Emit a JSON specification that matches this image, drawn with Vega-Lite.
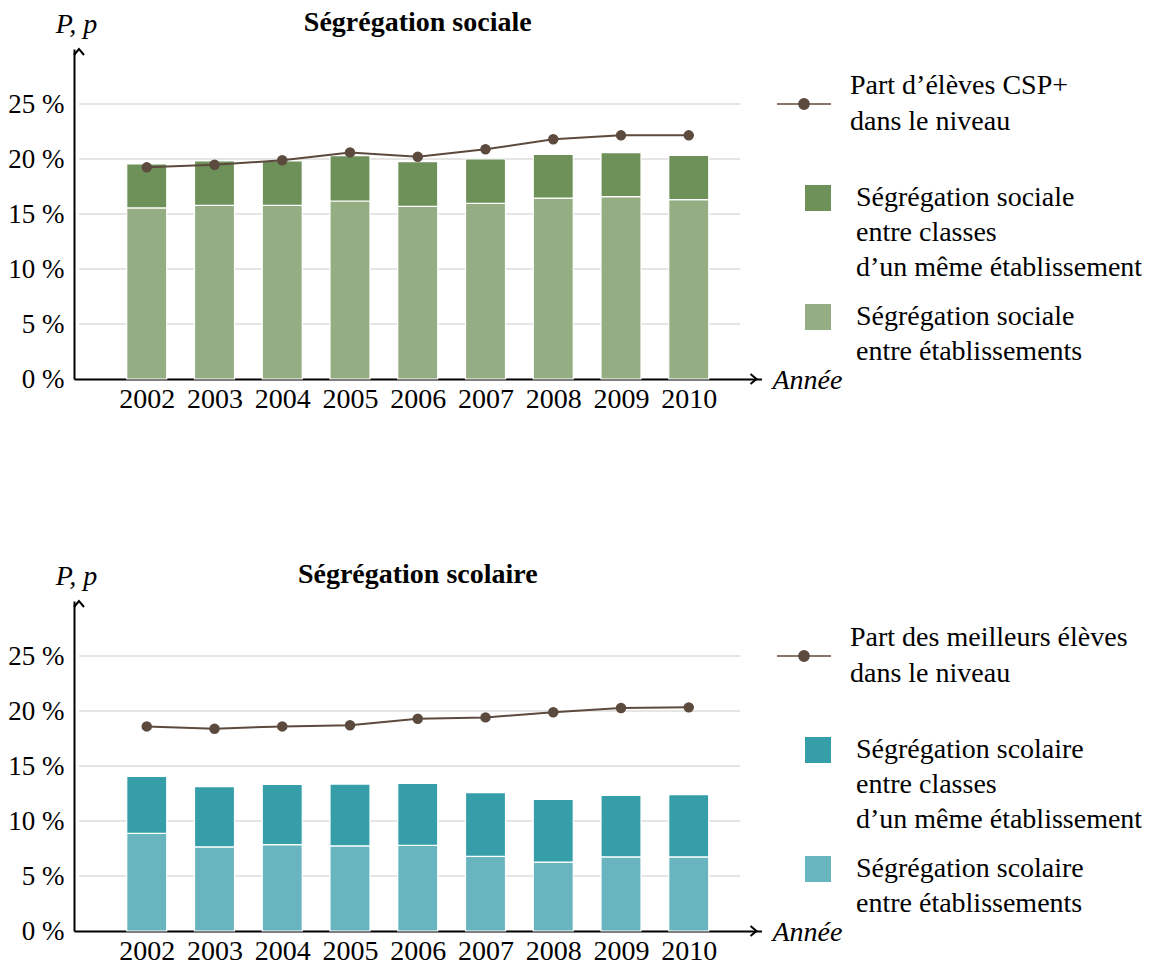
{
  "$schema": "https://vega.github.io/schema/vega-lite/v6.json",
  "background": "white",
  "padding": {"left": 7, "top": 9, "right": 5, "bottom": 5},
  "config": {
    "view": {"stroke": null},
    "font": "Liberation Serif",
    "axis": {"labelFont": "Liberation Serif", "titleFont": "Liberation Serif", "labelColor": "black", "titleColor": "black"},
    "legend": {"labelFont": "Liberation Serif", "labelColor": "black"},
    "title": {"font": "Liberation Serif", "color": "black"},
    "style": {"guide-label": {"lineHeight": 35}}
  },
  "datasets": {
    "grid": [{"g": 5}, {"g": 10}, {"g": 15}, {"g": 20}, {"g": 25}],
    "soc_bars": [
      {"year": 2002, "comp": "Ségrégation sociale|entre établissements", "ord": 1, "v": 15.55},
      {"year": 2002, "comp": "Ségrégation sociale|entre classes|d’un même établissement", "ord": 2, "v": 4.0},
      {"year": 2003, "comp": "Ségrégation sociale|entre établissements", "ord": 1, "v": 15.79},
      {"year": 2003, "comp": "Ségrégation sociale|entre classes|d’un même établissement", "ord": 2, "v": 4.03},
      {"year": 2004, "comp": "Ségrégation sociale|entre établissements", "ord": 1, "v": 15.79},
      {"year": 2004, "comp": "Ségrégation sociale|entre classes|d’un même établissement", "ord": 2, "v": 4.03},
      {"year": 2005, "comp": "Ségrégation sociale|entre établissements", "ord": 1, "v": 16.18},
      {"year": 2005, "comp": "Ségrégation sociale|entre classes|d’un même établissement", "ord": 2, "v": 4.12},
      {"year": 2006, "comp": "Ségrégation sociale|entre établissements", "ord": 1, "v": 15.7},
      {"year": 2006, "comp": "Ségrégation sociale|entre classes|d’un même établissement", "ord": 2, "v": 4.06},
      {"year": 2007, "comp": "Ségrégation sociale|entre établissements", "ord": 1, "v": 15.97},
      {"year": 2007, "comp": "Ségrégation sociale|entre classes|d’un même établissement", "ord": 2, "v": 4.03},
      {"year": 2008, "comp": "Ségrégation sociale|entre établissements", "ord": 1, "v": 16.45},
      {"year": 2008, "comp": "Ségrégation sociale|entre classes|d’un même établissement", "ord": 2, "v": 3.97},
      {"year": 2009, "comp": "Ségrégation sociale|entre établissements", "ord": 1, "v": 16.58},
      {"year": 2009, "comp": "Ségrégation sociale|entre classes|d’un même établissement", "ord": 2, "v": 4.0},
      {"year": 2010, "comp": "Ségrégation sociale|entre établissements", "ord": 1, "v": 16.3},
      {"year": 2010, "comp": "Ségrégation sociale|entre classes|d’un même établissement", "ord": 2, "v": 4.03}
    ],
    "soc_line": [
      {"year": 2002, "p": 19.24, "s": "Part d’élèves CSP+|dans le niveau"},
      {"year": 2003, "p": 19.48, "s": "Part d’élèves CSP+|dans le niveau"},
      {"year": 2004, "p": 19.88, "s": "Part d’élèves CSP+|dans le niveau"},
      {"year": 2005, "p": 20.6, "s": "Part d’élèves CSP+|dans le niveau"},
      {"year": 2006, "p": 20.2, "s": "Part d’élèves CSP+|dans le niveau"},
      {"year": 2007, "p": 20.88, "s": "Part d’élèves CSP+|dans le niveau"},
      {"year": 2008, "p": 21.79, "s": "Part d’élèves CSP+|dans le niveau"},
      {"year": 2009, "p": 22.15, "s": "Part d’élèves CSP+|dans le niveau"},
      {"year": 2010, "p": 22.15, "s": "Part d’élèves CSP+|dans le niveau"}
    ],
    "sco_bars": [
      {"year": 2002, "comp": "Ségrégation scolaire|entre établissements", "ord": 1, "v": 8.88},
      {"year": 2002, "comp": "Ségrégation scolaire|entre classes|d’un même établissement", "ord": 2, "v": 5.18},
      {"year": 2003, "comp": "Ségrégation scolaire|entre établissements", "ord": 1, "v": 7.64},
      {"year": 2003, "comp": "Ségrégation scolaire|entre classes|d’un même établissement", "ord": 2, "v": 5.48},
      {"year": 2004, "comp": "Ségrégation scolaire|entre établissements", "ord": 1, "v": 7.85},
      {"year": 2004, "comp": "Ségrégation scolaire|entre classes|d’un même établissement", "ord": 2, "v": 5.48},
      {"year": 2005, "comp": "Ségrégation scolaire|entre établissements", "ord": 1, "v": 7.73},
      {"year": 2005, "comp": "Ségrégation scolaire|entre classes|d’un même établissement", "ord": 2, "v": 5.63},
      {"year": 2006, "comp": "Ségrégation scolaire|entre établissements", "ord": 1, "v": 7.79},
      {"year": 2006, "comp": "Ségrégation scolaire|entre classes|d’un même établissement", "ord": 2, "v": 5.63},
      {"year": 2007, "comp": "Ségrégation scolaire|entre établissements", "ord": 1, "v": 6.79},
      {"year": 2007, "comp": "Ségrégation scolaire|entre classes|d’un même établissement", "ord": 2, "v": 5.79},
      {"year": 2008, "comp": "Ségrégation scolaire|entre établissements", "ord": 1, "v": 6.27},
      {"year": 2008, "comp": "Ségrégation scolaire|entre classes|d’un même établissement", "ord": 2, "v": 5.7},
      {"year": 2009, "comp": "Ségrégation scolaire|entre établissements", "ord": 1, "v": 6.73},
      {"year": 2009, "comp": "Ségrégation scolaire|entre classes|d’un même établissement", "ord": 2, "v": 5.6},
      {"year": 2010, "comp": "Ségrégation scolaire|entre établissements", "ord": 1, "v": 6.73},
      {"year": 2010, "comp": "Ségrégation scolaire|entre classes|d’un même établissement", "ord": 2, "v": 5.66}
    ],
    "sco_line": [
      {"year": 2002, "p": 18.6, "s": "Part des meilleurs élèves|dans le niveau"},
      {"year": 2003, "p": 18.39, "s": "Part des meilleurs élèves|dans le niveau"},
      {"year": 2004, "p": 18.6, "s": "Part des meilleurs élèves|dans le niveau"},
      {"year": 2005, "p": 18.7, "s": "Part des meilleurs élèves|dans le niveau"},
      {"year": 2006, "p": 19.3, "s": "Part des meilleurs élèves|dans le niveau"},
      {"year": 2007, "p": 19.42, "s": "Part des meilleurs élèves|dans le niveau"},
      {"year": 2008, "p": 19.88, "s": "Part des meilleurs élèves|dans le niveau"},
      {"year": 2009, "p": 20.27, "s": "Part des meilleurs élèves|dans le niveau"},
      {"year": 2010, "p": 20.33, "s": "Part des meilleurs élèves|dans le niveau"}
    ]
  },
  "resolve": {"scale": {"color": "independent", "stroke": "independent", "x": "independent", "y": "independent"}, "legend": {"color": "independent", "stroke": "independent"}},
  "spacing": 148,
  "vconcat": [
    {
      "width": 687.5,
      "height": 330,
      "title": {"text": "Ségrégation sociale", "fontSize": 28, "fontWeight": "bold", "anchor": "middle", "offset": 0, "dy": 27},
      "layer": [
        {
          "data": {"name": "grid"},
          "mark": {"type": "rule", "color": "#cccccc", "strokeWidth": 1.2},
          "encoding": {
            "y": {"field": "g", "type": "quantitative"},
            "x": {"datum": 2001, "type": "quantitative"},
            "x2": {"datum": 2010.76}
          }
        },
        {
          "data": {"name": "soc_bars"},
          "mark": {"type": "bar", "size": 40, "stroke": "white", "strokeWidth": 1.2},
          "encoding": {
            "x": {"field": "year", "type": "quantitative",
              "scale": {"domain": [2001, 2011], "nice": false, "zero": false},
              "axis": {"values": [2002, 2003, 2004, 2005, 2006, 2007, 2008, 2009, 2010], "format": "d", "title": "Année", "titleFontStyle": "italic", "titleFontWeight": "normal", "titleFontSize": 28, "titleX": 698, "titleY": 9, "titleAlign": "left", "titleBaseline": "alphabetic", "labelFontSize": 28, "labelPadding": 6, "ticks": false, "domainColor": "black", "domainWidth": 2, "grid": false, "labelOverlap": false, "labelFlush": false}},
            "y": {"field": "v", "type": "quantitative", "stack": "zero",
              "scale": {"domain": [0, 30], "nice": false},
              "axis": {"values": [0, 5, 10, 15, 20, 25], "labelExpr": "datum.value + ' %'", "title": "P, p", "titleAngle": 0, "titleX": 2, "titleY": -17, "titleAlign": "center", "titleBaseline": "alphabetic", "titleFontStyle": "italic", "titleFontWeight": "normal", "titleFontSize": 28, "labelFontSize": 27, "labelPadding": 10, "ticks": false, "domainColor": "black", "domainWidth": 2, "grid": false}},
            "color": {"field": "comp", "type": "nominal",
              "scale": {"domain": ["Ségrégation sociale|entre classes|d’un même établissement", "Ségrégation sociale|entre établissements"], "range": ["#6d9159", "#95ad83"]},
              "legend": {"title": null, "orient": "none", "legendX": 730, "legendY": 135, "symbolType": "square", "symbolSize": 676, "symbolStrokeWidth": 0, "labelFontSize": 28, "labelOffset": 24, "labelLimit": 500, "rowPadding": 21, "labelExpr": "split(datum.label, '|')"}},
            "order": {"field": "ord", "type": "quantitative"}
          }
        },
        {
          "data": {"name": "soc_line"},
          "mark": {"type": "line", "strokeWidth": 2},
          "encoding": {
            "x": {"field": "year", "type": "quantitative"},
            "y": {"field": "p", "type": "quantitative"},
            "stroke": {"field": "s", "type": "nominal", "scale": {"range": ["#5c4a3e"]},
              "legend": {"title": null, "orient": "none", "legendX": 702, "legendY": 27, "symbolType": "M-1,0H1M0.19,0A0.19,0.19,0,1,1,-0.19,0A0.19,0.19,0,1,1,0.19,0Z", "symbolSize": 2916, "symbolStrokeWidth": 1.5, "symbolStrokeColor": "#5c4a3e", "symbolFillColor": "#5c4a3e", "labelFontSize": 28, "labelOffset": 18, "labelLimit": 500, "labelExpr": "split(datum.label, '|')",
                "encode": {"symbols": {"update": {"fill": {"value": "#5c4a3e"}, "fillOpacity": {"value": 1}, "stroke": {"value": "#5c4a3e"}}}, "labels": {"update": {"lineHeight": {"value": 36}, "dy": {"value": -18}}}}}}
          }
        },
        {
          "data": {"name": "soc_line"},
          "mark": {"type": "point", "filled": true, "size": 110, "color": "#5c4a3e", "opacity": 1},
          "encoding": {
            "x": {"field": "year", "type": "quantitative"},
            "y": {"field": "p", "type": "quantitative"}
          }
        },
        {
          "data": {"values": [{}]},
          "mark": {"type": "point", "shape": "M-1.2,-1L0,0L-1.2,1", "size": 100, "filled": false, "stroke": "black", "strokeWidth": 2, "opacity": 1},
          "encoding": {
            "x": {"datum": 2011, "type": "quantitative"},
            "y": {"datum": 0, "type": "quantitative"}
          }
        },
        {
          "data": {"values": [{}]},
          "mark": {"type": "point", "shape": "M-1,1.2L0,0L1,1.2", "size": 100, "filled": false, "stroke": "black", "strokeWidth": 2, "opacity": 1},
          "encoding": {
            "x": {"datum": 2001, "type": "quantitative"},
            "y": {"datum": 30, "type": "quantitative"}
          }
        }
      ]
    },
    {
      "width": 687.5,
      "height": 330,
      "title": {"text": "Ségrégation scolaire", "fontSize": 28, "fontWeight": "bold", "anchor": "middle", "offset": 0, "dy": 27},
      "layer": [
        {
          "data": {"name": "grid"},
          "mark": {"type": "rule", "color": "#cccccc", "strokeWidth": 1.2},
          "encoding": {
            "y": {"field": "g", "type": "quantitative"},
            "x": {"datum": 2001, "type": "quantitative"},
            "x2": {"datum": 2010.76}
          }
        },
        {
          "data": {"name": "sco_bars"},
          "mark": {"type": "bar", "size": 40, "stroke": "white", "strokeWidth": 1.2},
          "encoding": {
            "x": {"field": "year", "type": "quantitative",
              "scale": {"domain": [2001, 2011], "nice": false, "zero": false},
              "axis": {"values": [2002, 2003, 2004, 2005, 2006, 2007, 2008, 2009, 2010], "format": "d", "title": "Année", "titleFontStyle": "italic", "titleFontWeight": "normal", "titleFontSize": 28, "titleX": 698, "titleY": 9, "titleAlign": "left", "titleBaseline": "alphabetic", "labelFontSize": 28, "labelPadding": 6, "ticks": false, "domainColor": "black", "domainWidth": 2, "grid": false, "labelOverlap": false, "labelFlush": false}},
            "y": {"field": "v", "type": "quantitative", "stack": "zero",
              "scale": {"domain": [0, 30], "nice": false},
              "axis": {"values": [0, 5, 10, 15, 20, 25], "labelExpr": "datum.value + ' %'", "title": "P, p", "titleAngle": 0, "titleX": 2, "titleY": -17, "titleAlign": "center", "titleBaseline": "alphabetic", "titleFontStyle": "italic", "titleFontWeight": "normal", "titleFontSize": 28, "labelFontSize": 27, "labelPadding": 10, "ticks": false, "domainColor": "black", "domainWidth": 2, "grid": false}},
            "color": {"field": "comp", "type": "nominal",
              "scale": {"domain": ["Ségrégation scolaire|entre classes|d’un même établissement", "Ségrégation scolaire|entre établissements"], "range": ["#359ea9", "#68b5bf"]},
              "legend": {"title": null, "orient": "none", "legendX": 730, "legendY": 135, "symbolType": "square", "symbolSize": 676, "symbolStrokeWidth": 0, "labelFontSize": 28, "labelOffset": 24, "labelLimit": 500, "rowPadding": 21, "labelExpr": "split(datum.label, '|')"}},
            "order": {"field": "ord", "type": "quantitative"}
          }
        },
        {
          "data": {"name": "sco_line"},
          "mark": {"type": "line", "strokeWidth": 2},
          "encoding": {
            "x": {"field": "year", "type": "quantitative"},
            "y": {"field": "p", "type": "quantitative"},
            "stroke": {"field": "s", "type": "nominal", "scale": {"range": ["#5c4a3e"]},
              "legend": {"title": null, "orient": "none", "legendX": 702, "legendY": 27, "symbolType": "M-1,0H1M0.19,0A0.19,0.19,0,1,1,-0.19,0A0.19,0.19,0,1,1,0.19,0Z", "symbolSize": 2916, "symbolStrokeWidth": 1.5, "symbolStrokeColor": "#5c4a3e", "symbolFillColor": "#5c4a3e", "labelFontSize": 28, "labelOffset": 18, "labelLimit": 500, "labelExpr": "split(datum.label, '|')",
                "encode": {"symbols": {"update": {"fill": {"value": "#5c4a3e"}, "fillOpacity": {"value": 1}, "stroke": {"value": "#5c4a3e"}}}, "labels": {"update": {"lineHeight": {"value": 36}, "dy": {"value": -18}}}}}}
          }
        },
        {
          "data": {"name": "sco_line"},
          "mark": {"type": "point", "filled": true, "size": 110, "color": "#5c4a3e", "opacity": 1},
          "encoding": {
            "x": {"field": "year", "type": "quantitative"},
            "y": {"field": "p", "type": "quantitative"}
          }
        },
        {
          "data": {"values": [{}]},
          "mark": {"type": "point", "shape": "M-1.2,-1L0,0L-1.2,1", "size": 100, "filled": false, "stroke": "black", "strokeWidth": 2, "opacity": 1},
          "encoding": {
            "x": {"datum": 2011, "type": "quantitative"},
            "y": {"datum": 0, "type": "quantitative"}
          }
        },
        {
          "data": {"values": [{}]},
          "mark": {"type": "point", "shape": "M-1,1.2L0,0L1,1.2", "size": 100, "filled": false, "stroke": "black", "strokeWidth": 2, "opacity": 1},
          "encoding": {
            "x": {"datum": 2001, "type": "quantitative"},
            "y": {"datum": 30, "type": "quantitative"}
          }
        }
      ]
    }
  ]
}
